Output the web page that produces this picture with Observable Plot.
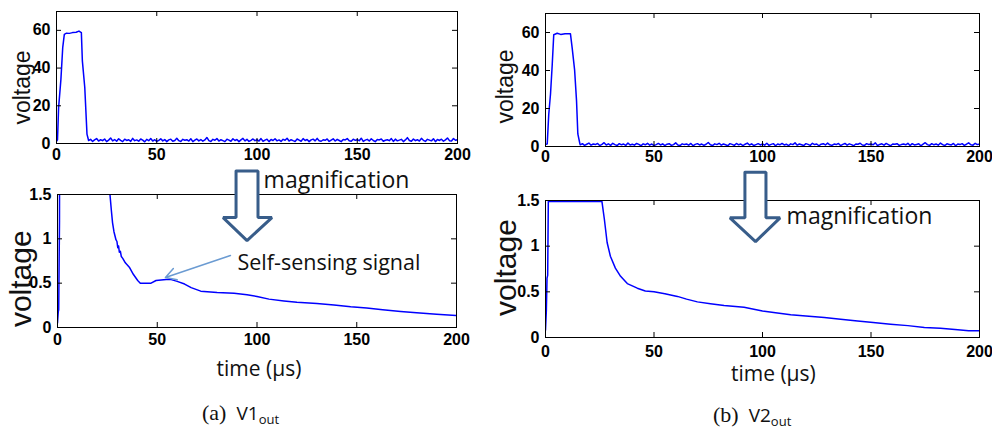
<!DOCTYPE html>
<html><head><meta charset="utf-8">
<script src="https://cdn.jsdelivr.net/npm/d3@7"></script>
<script src="https://cdn.jsdelivr.net/npm/@observablehq/plot@0.6"></script>
<style>
body{margin:0;background:#fff;}
#wrap{position:relative;width:992px;height:435px;overflow:hidden;background:#fff;}
#wrap svg{position:absolute;overflow:visible;background:transparent;}
</style></head><body><div id="wrap"></div>
<script>
// ---------- data ----------
const xTicks = [0, 50, 100, 150, 200];
const yTicksTop = [0, 20, 40, 60];
const yTicksBottom = [0, 0.5, 1, 1.5];
const xLabel = "time (μs)";
const yLabel = "voltage";
const annotation1 = "magnification";
const annotation2 = "Self-sensing signal";
const captionLetters = ["a", "b"];
const captionNames = ["V1", "V2"];
const captionSub = "out";

// (a) V1out, full scale: pulse then noisy tail (1 µs steps from 16 µs)
const v1PulseT = [0, 0.5, 1.05, 2.2, 3.1, 3.9, 5, 6.4, 8, 9.8, 11.2, 12.4, 12.9, 14.1, 15.2, 15.7];
const v1PulseV = [1.2, 2, 19, 34, 50.8, 57.9, 58.5, 58.4, 58.8, 59, 59.6, 58.8, 43.8, 29.7, 5, 2.9];
const tailStart = 16;
const v1TailV = [
1.6,2.2,1.1,1.9,2.6,1.3,2.0,1.5,2.4,1.0,
1.8,2.9,1.4,2.1,1.2,2.5,1.7,1.0,2.3,1.6,
2.0,1.1,2.7,1.5,1.9,1.2,2.4,1.8,0.9,2.2,
1.5,2.6,1.3,2.0,1.1,1.7,2.5,1.4,2.1,1.0,
1.9,2.3,1.2,1.6,2.8,1.5,1.1,2.2,1.7,2.0,
1.3,2.5,1.0,1.8,2.4,1.4,2.1,1.2,1.9,3.2,
1.5,1.1,2.2,1.7,2.6,1.3,2.0,1.5,1.0,2.3,
1.8,1.2,2.5,1.6,2.1,1.0,1.9,2.7,1.4,2.2,
1.1,1.7,2.4,1.5,2.0,1.3,2.6,1.2,1.8,2.3,
1.0,2.1,1.6,2.5,1.4,1.9,1.1,2.2,1.7,2.8,
1.3,2.0,1.5,1.1,2.4,1.8,1.2,2.6,1.6,2.1,
1.0,1.9,2.3,1.4,2.7,1.5,1.2,2.0,1.7,2.4,
1.1,1.8,2.5,1.3,2.2,1.6,1.0,2.1,1.9,2.6,
1.4,1.2,2.3,1.7,2.0,1.5,2.8,1.1,1.8,2.2,
1.3,2.5,1.6,1.0,2.1,1.9,2.4,1.2,1.7,2.0,
1.5,2.6,1.1,2.3,1.4,1.8,2.2,1.0,1.9,3.1,
1.6,1.2,2.4,1.5,2.0,1.3,2.7,1.7,1.1,2.2,
1.8,1.4,2.5,1.0,2.1,1.6,2.3,1.2,1.9,2.9,
1.5,1.3,2.6,1.7,2.0];

// (b) V2out, full scale
const v2PulseT = [0, 0.8, 1.5, 2.3, 3.1, 3.8, 5.4, 7, 9, 11.5, 12.3, 13.4, 14.3, 14.9, 15.8];
const v2PulseV = [1.0, 1.4, 17, 27.5, 43, 58.8, 59.6, 59, 59.4, 59.3, 51.8, 40.5, 24, 6.6, 1.7];
const v2TailV = [
0.9,1.5,0.6,1.2,1.8,0.7,1.3,1.0,1.6,0.5,
1.1,2.0,0.8,1.4,0.6,1.7,1.0,0.5,1.5,0.9,
1.3,0.6,1.8,0.8,1.2,0.7,1.6,1.1,0.4,1.4,
0.9,1.7,0.7,1.3,0.5,1.0,1.6,0.8,1.4,0.5,
1.2,1.5,0.6,1.0,1.9,0.8,0.5,1.4,1.0,1.3,
0.7,1.6,0.4,1.1,1.5,0.8,1.3,0.6,1.2,2.1,
0.9,0.5,1.4,1.0,1.7,0.7,1.3,0.9,0.4,1.5,
1.1,0.6,1.6,0.9,1.3,0.5,1.2,1.8,0.8,1.4,
0.5,1.0,1.5,0.8,1.3,0.7,1.7,0.6,1.1,1.5,
0.4,1.3,0.9,1.6,0.8,1.2,0.5,1.4,1.0,1.9,
0.7,1.3,0.9,0.5,1.5,1.1,0.6,1.7,1.0,1.3,
0.4,1.2,1.5,0.8,1.8,0.9,0.6,1.3,1.0,1.6,
0.5,1.1,1.6,0.7,1.4,1.0,0.4,1.3,1.2,1.7,
0.8,0.6,1.5,1.0,1.3,0.9,1.9,0.5,1.1,1.4,
0.7,1.6,1.0,0.4,1.3,1.2,1.5,0.6,1.0,1.3,
0.9,1.7,0.5,1.5,0.8,1.1,1.4,0.4,1.2,2.0,
1.0,0.6,1.5,0.9,1.3,0.7,1.8,1.0,0.5,1.4,
1.1,0.8,1.6,0.4,1.3,1.0,1.5,0.6,1.2,1.9,
0.9,0.7,1.7,1.0,1.3];

// magnified views (0–1.5 V)
const v1ZoomT = [0,0.4,0.6,1.0,1.5,3,5,12,15,20,26.3,27.0,27.6,28.3,29.3,29.8,30.2,30.6,31.0,31.5,32.0,32.7,34,36,38,40.2,41.5,46.9,49.4,54.5,57,60,63.7,67,71.8,80,88.5,95,100,106,113.5,120,130,138.6,147,155,163,172,180,190,200];
const v1ZoomV = [0.05,0.18,0.2,1.2,10,50,58,59,5,2.5,1.5,1.32,1.18,1.08,0.99,0.97,0.9,0.92,0.85,0.86,0.8,0.78,0.73,0.68,0.6,0.53,0.5,0.5,0.53,0.54,0.54,0.52,0.49,0.45,0.41,0.395,0.385,0.37,0.35,0.32,0.3,0.285,0.27,0.255,0.235,0.22,0.2,0.18,0.165,0.15,0.135];
const v2ZoomT = [0,0.4,0.7,1.0,1.3,26,27.1,28.4,29.9,32.2,34.6,37.7,42.3,46,50,55,60.8,65,70,76,82.3,91.5,100,106,113,120,128.5,136,143.8,151,159,167,174.6,182,190,195,200];
const v2ZoomV = [0.08,0.3,0.65,0.68,1.49,1.49,1.3,1.04,0.89,0.76,0.67,0.59,0.54,0.51,0.5,0.48,0.45,0.42,0.39,0.37,0.35,0.33,0.29,0.27,0.25,0.235,0.22,0.2,0.18,0.165,0.146,0.13,0.11,0.1,0.084,0.075,0.073];

// annotation geometry in data units of the magnified panels
const arrow1 = {t: 95, shaft: [89.5, 100.5], head: [83.0, 107.5], top: 1.765, neck: 1.24, tip: 0.98};
const arrow2 = {t: 96.8, shaft: [91.9, 101.6], head: [85.0, 108.1], top: 1.81, neck: 1.31, tip: 1.05};
const pointer1 = {t1: 86.7, v1: 0.812, t2: 54.1, v2: 0.564};

// ---------- helpers ----------
const zipTV = (T, V) => T.map((t, i) => ({t, v: V[i]}));
const withTail = (T, V, tail) => zipTV(T, V).concat(tail.map((v, i) => ({t: tailStart + i, v})));
const arrowPoly = a => [
  {t: a.shaft[0], v: a.top}, {t: a.shaft[1], v: a.top}, {t: a.shaft[1], v: a.neck},
  {t: a.head[1], v: a.neck}, {t: a.t, v: a.tip}, {t: a.head[0], v: a.neck},
  {t: a.shaft[0], v: a.neck}, {t: a.shaft[0], v: a.top}
];

const wrap = document.getElementById("wrap");
const tickFont = "Liberation Sans, Arial, sans-serif";
const textFont = "Open Sans, sans-serif";

function panel({frame, yDomain, yTicks, series, ylab, xlab, extra = [], xPad = 5}) {
  const [fx0, fy0, fx1, fy1] = frame;
  const mL = 70, mR = 30, mT = 40, mB = 60;
  const w = fx1 - fx0, h = fy1 - fy0;
  const svg = Plot.plot({
    width: w + mL + mR, height: h + mT + mB,
    marginLeft: mL, marginRight: mR, marginTop: mT, marginBottom: mB,
    x: {domain: [0, 200], label: null},
    y: {domain: yDomain, label: null},
    style: {background: "transparent", overflow: "visible", color: "#000"},
    marks: [
      Plot.line(series, {x: "t", y: "v", stroke: "#0000ff", strokeWidth: 1.5, clip: true}),
      Plot.frame({stroke: "#000", strokeWidth: 1}),
      Plot.tickX(xTicks, {x: d => d, insetTop: h - 5, stroke: "#000"}),
      Plot.tickX(xTicks, {x: d => d, insetBottom: h - 5, stroke: "#000"}),
      Plot.tickY(yTicks, {y: d => d, insetRight: w - 5, stroke: "#000"}),
      Plot.tickY(yTicks, {y: d => d, insetLeft: w - 5, stroke: "#000"}),
      Plot.axisX(xTicks, {tickSize: 0, tickPadding: xPad, fontSize: 16, fontWeight: "bold", fontFamily: tickFont, label: null, tickFormat: d => String(d)}),
      Plot.axisY(yTicks, {tickSize: 0, tickPadding: 6, fontSize: 16, fontWeight: "bold", fontFamily: tickFont, label: null, tickFormat: d => String(d)}),
      Plot.text([ylab.text], {y: () => ylab.v, frameAnchor: "left", textAnchor: "middle", lineAnchor: "middle",
        rotate: -90, dx: ylab.dx, text: d => d, fontSize: ylab.size, fontFamily: tickFont, fill: "#111"}),
      ...(xlab ? [Plot.text([xlab.text], {x: () => xlab.t, frameAnchor: "bottom", dy: xlab.dy, lineAnchor: "bottom",
        text: d => d, fontSize: 21, fontFamily: textFont, fill: "#111"})] : []),
      ...extra
    ]
  });
  svg.style.left = (fx0 - mL) + "px";
  svg.style.top = (fy0 - mT) + "px";
  wrap.appendChild(svg);
}

const arrowStyle = {x: "t", y: "v", fill: "white", stroke: "#385D8A", strokeWidth: 3, strokeLinejoin: "miter"};
const annoStyle = {fontFamily: textFont, fill: "#111", textAnchor: "start", lineAnchor: "bottom"};

// top-left
panel({frame: [56, 11, 457, 143], yDomain: [0, 70], yTicks: yTicksTop,
  series: withTail(v1PulseT, v1PulseV, v1TailV),
  ylab: {text: yLabel, dx: -34, v: 29.7, size: 23}});
// top-right
panel({frame: [545, 13, 979, 146], yDomain: [0, 70], yTicks: yTicksTop,
  series: withTail(v2PulseT, v2PulseV, v2TailV), xPad: 4,
  ylab: {text: yLabel, dx: -40, v: 31.6, size: 23}});
// bottom-left
panel({frame: [57, 194, 456, 327], yDomain: [0, 1.5], yTicks: yTicksBottom,
  series: zipTV(v1ZoomT, v1ZoomV), xPad: 6,
  ylab: {text: yLabel, dx: -36, v: 0.55, size: 30},
  xlab: {text: xLabel, t: 101, dy: 48},
  extra: [
    Plot.line(arrowPoly(arrow1), arrowStyle),
    Plot.text([annotation1], {x: () => 103.3, y: () => 1.568, text: d => d, fontSize: 23, ...annoStyle}),
    Plot.text([annotation2], {x: () => 90.2, y: () => 0.643, text: d => d, fontSize: 21.5, ...annoStyle}),
    Plot.arrow([pointer1], {x1: "t1", y1: "v1", x2: "t2", y2: "v2", stroke: "#6b9bd2", strokeWidth: 1.5, headLength: 12})
  ]});
// bottom-right
panel({frame: [545, 200, 979, 337], yDomain: [0, 1.5], yTicks: yTicksBottom,
  series: zipTV(v2ZoomT, v2ZoomV), xPad: 8,
  ylab: {text: yLabel, dx: -39, v: 0.766, size: 30},
  xlab: {text: xLabel, t: 105, dy: 43},
  extra: [
    Plot.line(arrowPoly(arrow2), arrowStyle),
    Plot.text([annotation1], {x: () => 111.1, y: () => 1.248, text: d => d, fontSize: 23, ...annoStyle})
  ]});

// captions
const cap = d3.select(wrap).append("svg").attr("width", 992).attr("height", 435)
  .style("left", "0px").style("top", "0px").style("pointer-events", "none");
const capPos = [[202, 420], [713, 422]];
captionLetters.forEach((L, i) => {
  const t = cap.append("text").attr("x", capPos[i][0]).attr("y", capPos[i][1]).attr("fill", "#111");
  t.append("tspan").attr("font-family", "Liberation Serif, serif").attr("font-size", 22).text(`(${L})`);
  t.append("tspan").attr("dx", 10).attr("font-family", textFont).attr("font-size", 19).text(captionNames[i]);
  t.append("tspan").attr("dy", 4).attr("font-family", textFont).attr("font-size", 13).text(captionSub);
});
</script></body></html>
